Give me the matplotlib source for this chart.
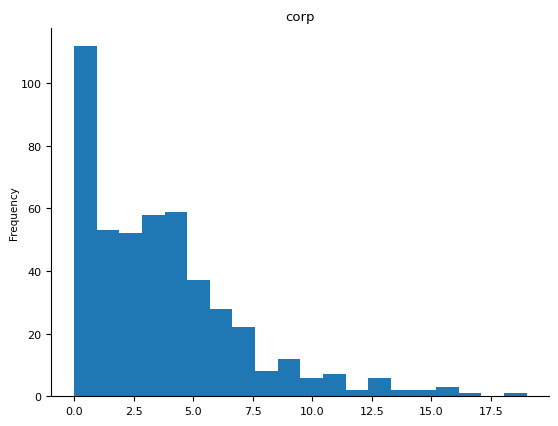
import numpy as np
import matplotlib
matplotlib.use("Agg")
import matplotlib.pyplot as plt

# histogram of "corp": 20 bins from 0 to 19
bin_lo = 0.0
bin_hi = 19.0
counts = [112, 53, 52, 58, 59, 37, 28, 22, 8, 12, 6, 7, 2, 6, 2, 2, 3, 1, 0, 1]

edges = np.linspace(bin_lo, bin_hi, len(counts) + 1)
centers = (edges[:-1] + edges[1:]) / 2

fig = plt.figure(figsize=(5.58, 4.27), dpi=100)
ax = fig.add_axes([0.0921, 0.0695, 0.8925, 0.8626])
ax.hist(centers, bins=edges, weights=counts, color="#1f77b4")
ax.set_title("corp", fontsize=9.5)
ax.set_ylabel("Frequency", fontsize=7.5, labelpad=1)
ax.tick_params(labelsize=8)
ax.spines[["top", "right"]].set_visible(False)

fig.savefig("out.png", dpi=100)
plt.close(fig)
